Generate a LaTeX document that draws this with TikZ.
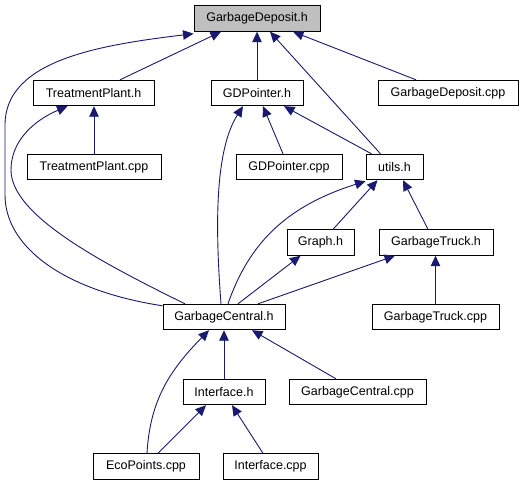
\documentclass[tikz,border=0pt]{standalone}
\usepackage{fontspec}
\setmainfont{Liberation Sans}
\usetikzlibrary{arrows.meta}
\definecolor{edgecol}{HTML}{191970}
\definecolor{graybox}{HTML}{BFBFBF}
\tikzset{
  box/.style={draw=black, line width=0.9pt, fill=white, inner sep=0pt, minimum height=25.5pt,
    font=\fontsize{12.5pt}{14pt}\selectfont},
  edge/.style={draw=edgecol, line width=0.9pt, -{Triangle[length=10.5pt,width=9.5pt]}},
}
\begin{document}
\begin{tikzpicture}[x=1pt,y=-1pt]
\fill[white] (0,0) rectangle (526,485);
\useasboundingbox (0,0) rectangle (526,485);
% nodes
\node[box, fill=graybox, minimum width=126pt] (gdh) at (257,18.5) {GarbageDeposit.h};
\node[box, minimum width=121pt] (tph) at (93.5,93) {TreatmentPlant.h};
\node[box, minimum width=92pt] (gdp) at (257,93) {GDPointer.h};
\node[box, minimum width=140pt] (gdcpp) at (448,93) {GarbageDeposit.cpp};
\node[box, minimum width=134pt] (tpcpp) at (94,167) {TreatmentPlant.cpp};
\node[box, minimum width=106pt] (gdpcpp) at (289,167) {GDPointer.cpp};
\node[box, minimum width=57pt] (utils) at (394.5,167) {utils.h};
\node[box, minimum width=67pt] (graph) at (320.5,242.5) {Graph.h};
\node[box, minimum width=114pt] (gth) at (436,242.5) {GarbageTruck.h};
\node[box, minimum width=122pt] (gch) at (224,317) {GarbageCentral.h};
\node[box, minimum width=127pt] (gtcpp) at (435.5,317) {GarbageTruck.cpp};
\node[box, minimum width=82pt] (ifh) at (224,392) {Interface.h};
\node[box, minimum width=137pt] (gccpp) at (357.5,392) {GarbageCentral.cpp};
\node[box, minimum width=106pt] (eco) at (146,466.5) {EcoPoints.cpp};
\node[box, minimum width=95pt] (ifcpp) at (270.5,466.5) {Interface.cpp};
% straight edges
\draw[edge] ([xshift=26.5pt]tph.north) -- ([xshift=-36pt]gdh.south);
\draw[edge] (gdp.north) -- (gdh.south);
\draw[edge] ([xshift=-14pt]utils.north) -- ([xshift=13pt]gdh.south);
\draw[edge] ([xshift=-32pt]gdcpp.north) -- ([xshift=36pt]gdh.south);
\draw[edge] (tpcpp.north) -- (tpcpp.north |- tph.south);
\draw[edge] ([xshift=-6pt]gdpcpp.north) -- ([xshift=6pt]gdp.south);
\draw[edge] ([xshift=-23pt]utils.north) -- ([xshift=27pt]gdp.south);
\draw[edge] ([xshift=12.5pt]graph.north) -- ([xshift=-17pt]utils.south);
\draw[edge] ([xshift=-8pt]gth.north) -- ([xshift=8.5pt]utils.south);
\draw[edge] ([xshift=14pt]gch.north) -- ([xshift=-20pt]graph.south);
\draw[edge] ([xshift=34pt]gch.north) -- ([xshift=-41pt]gth.south);
\draw[edge] (gtcpp.north) -- (gtcpp.north |- gth.south);
\draw[edge] (ifh.north) -- (gch.south);
\draw[edge] ([xshift=-21.5pt]gccpp.north) -- ([xshift=28pt]gch.south);
\draw[edge] ([xshift=12pt]eco.north) -- ([xshift=-18pt]ifh.south);
\draw[edge] ([xshift=-7.5pt]ifcpp.north) -- ([xshift=8pt]ifh.south);
% curved edges
\draw[edge] ([yshift=-2pt]gch.north west) .. controls (60,290) and (5,245) .. (5,195)
  -- (5,125) .. controls (5,60) and (100,45) .. ([yshift=-2pt]gdh.south west);
\draw[edge] ([xshift=-39pt]gch.north) .. controls (100,262) and (11,215) .. (11,170)
  .. controls (11,140) and (35,120) .. ([xshift=-26pt]tph.south);
\draw[edge] ([xshift=-3pt]gch.north) .. controls (215,225) and (215,150) .. ([xshift=-14pt]gdp.south);
\draw[edge] ([xshift=4pt]gch.north) .. controls (250,240) and (290,205) .. ([yshift=-1pt]utils.south west);
\draw[edge] ([xshift=1pt]eco.north) .. controls (150,400) and (170,370) .. ([xshift=-15pt]gch.south);
\end{tikzpicture}
\end{document}
